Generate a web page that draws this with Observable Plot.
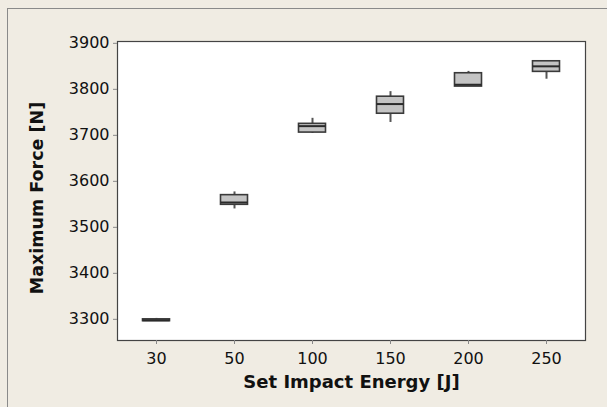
<!DOCTYPE html>
<html><head><meta charset="utf-8">
<script src="https://cdn.jsdelivr.net/npm/d3@7"></script>
<script src="https://cdn.jsdelivr.net/npm/@observablehq/plot@0.6"></script>
<style>
html,body{margin:0;padding:0;background:#f0ece3;}
#wrap{position:relative;width:607px;height:407px;overflow:hidden;}
#border{position:absolute;left:7px;top:8px;width:620px;height:420px;border-left:1px solid #8a8a8a;border-top:1px solid #8a8a8a;pointer-events:none;z-index:1;}
svg{display:block;}
</style></head>
<body><div id="wrap"><div id="border"></div></div>
<script>
const energies = ["30","50","100","150","200","250"];
const whiskerLow  = [3296, 3540, 3704, 3728, 3806, 3822];
const q1          = [3296, 3549, 3706, 3747, 3806, 3838];
const median      = [3298, 3554, 3720, 3768, 3810, 3850];
const q3          = [3300, 3570, 3725, 3784, 3835, 3861];
const whiskerHigh = [3302, 3577, 3737, 3795, 3839, 3862];
const yTicks = [3300, 3400, 3500, 3600, 3700, 3800, 3900];

const data = energies.map((e, i) => ({e, lo: whiskerLow[i], q1: q1[i], med: median[i], q3: q3[i], hi: whiskerHigh[i]}));

const boxInset = 25.5;
const chart = Plot.plot({
  width: 607, height: 407,
  marginLeft: 117, marginRight: 22, marginTop: 41, marginBottom: 67,
  style: {background: "transparent", fontFamily: "DejaVu Sans, sans-serif", fontSize: "16px", color: "#111"},
  x: {type: "band", domain: energies, paddingInner: 0, paddingOuter: 0, label: null},
  y: {domain: [3254, 3904], label: null},
  marks: [
    Plot.frame({fill: "white", stroke: null}),
    Plot.ruleX(data, {x: "e", y1: "lo", y2: "q1", stroke: "#555", strokeWidth: 2}),
    Plot.ruleX(data, {x: "e", y1: "q3", y2: "hi", stroke: "#555", strokeWidth: 2}),
    Plot.barY(data, {x: "e", y1: "q1", y2: "q3", fill: "#c4c4c4", stroke: "#3a3a3a", strokeWidth: 1.6, insetLeft: boxInset, insetRight: boxInset}),
    Plot.tickY(data, {x: "e", y: "med", stroke: "#2a2a2a", strokeWidth: 2, insetLeft: boxInset, insetRight: boxInset}),
    Plot.frame({stroke: "#444", strokeWidth: 1.2}),
    Plot.axisX({tickSize: 4, stroke: "#888", tickPadding: 8, fontSize: 16, fill: "#111"}),
    Plot.axisY({ticks: yTicks, tickSize: 4, stroke: "#888", tickPadding: 4, fontSize: 16, fill: "#111", tickFormat: d => String(d)}),
    Plot.text(["Set Impact Energy [J]"], {frameAnchor: "bottom", dy: 47, fontWeight: "bold", fontSize: 18, fill: "#111"}),
    Plot.text(["Maximum Force [N]"], {frameAnchor: "left", dx: -80, dy: 7, rotate: -90, textAnchor: "middle", fontWeight: "bold", fontSize: 17.5, fill: "#111"})
  ]
});
document.getElementById("wrap").appendChild(chart);
</script>
</body></html>
